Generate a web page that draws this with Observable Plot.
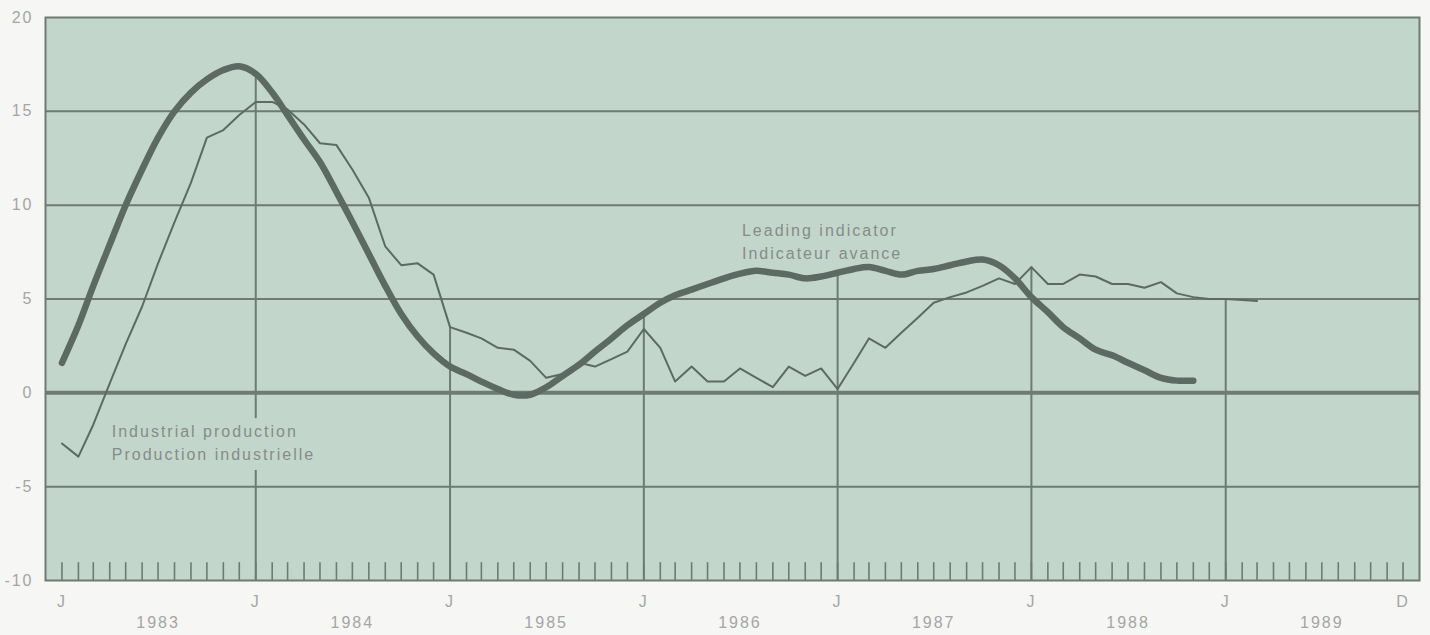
<!DOCTYPE html>
<html><head><meta charset="utf-8">
<script src="https://cdn.jsdelivr.net/npm/d3@7"></script>
<script src="https://cdn.jsdelivr.net/npm/@observablehq/plot@0.6"></script>
<style>
html,body{margin:0;padding:0;background:#f6f6f4;}
#chart svg{display:block;}
#chart text{letter-spacing:2px;}
</style></head><body><div id="chart"></div>
<script>
// Monthly series, starting January 1983
const leading = [1.6, 3.6, 5.7, 7.9, 10.0, 11.9, 13.6, 15.0, 16.0, 16.7, 17.2, 17.4,
  17.0, 16.0, 14.8, 13.5, 12.3, 10.7, 9.1, 7.4, 5.7, 4.2, 3.0, 2.1,
  1.4, 1.0, 0.6, 0.2, -0.1, -0.1, 0.3, 0.9, 1.5, 2.2, 2.9, 3.6,
  4.2, 4.8, 5.2, 5.5, 5.8, 6.1, 6.35, 6.5, 6.4, 6.3, 6.1, 6.2,
  6.4, 6.6, 6.7, 6.5, 6.3, 6.5, 6.6, 6.8, 7.0, 7.1, 6.8, 6.1,
  5.1, 4.3, 3.5, 2.9, 2.3, 2.0, 1.6, 1.2, 0.8, 0.65, 0.65];
const production = [-2.7, -3.4, -1.7, 0.5, 2.6, 4.6, 6.9, 9.1, 11.2, 13.6, 14.0, 14.8,
  15.5, 15.5, 15.1, 14.3, 13.3, 13.2, 11.9, 10.4, 7.8, 6.8, 6.9, 6.3,
  3.5, 3.2, 2.9, 2.4, 2.3, 1.7, 0.8, 1.0, 1.6, 1.4, 1.8, 2.2,
  3.4, 2.4, 0.6, 1.4, 0.6, 0.6, 1.3, 0.8, 0.3, 1.4, 0.9, 1.3,
  0.2, 1.6, 2.9, 2.4, 3.2, 4.0, 4.8, 5.1, 5.35, 5.7, 6.1, 5.8,
  6.7, 5.8, 5.8, 6.3, 6.2, 5.8, 5.8, 5.6, 5.9, 5.3, 5.1, 5.0,
  5.0, 4.95, 4.9];
const years = [1983, 1984, 1985, 1986, 1987, 1988, 1989];
const yearLabels = ["1983", "1984", "1985", "1986", "1987", "1988", "1989"];
const yTicks = [-10, -5, 0, 5, 10, 15, 20];
const yTickLabels = ["-10", "-5", "0", "5", "10", "15", "20"];
const gridValues = [-5, 5, 10, 15];
const seriesLabels = ["Industrial production\nProduction industrielle", "Leading indicator\nIndicateur avance"];

const month = (i) => new Date(Date.UTC(1983, i, 1));
const leadData = leading.map((v, i) => ({date: month(i), value: v}));
const prodData = production.map((v, i) => ({date: month(i), value: v}));
const monthTicks = d3.utcMonth.range(new Date(Date.UTC(1983, 0, 1)), new Date(Date.UTC(1990, 0, 1)));
const xStart = new Date(Date.UTC(1982, 11, 1));
const xEnd = new Date(Date.UTC(1990, 0, 1));
const yMin = yTicks[0];

// drop lines at each January (1984-1989) up to the higher of the two series
const drops = years.slice(1).map(y => {
  const i = (y - 1983) * 12;
  const vals = [leading[i], production[i]].filter(v => v !== undefined);
  return {date: month(i), top: Math.max(...vals)};
});
const xLabels = years.map(y => ({date: new Date(Date.UTC(y, 0, 1)), label: "J"}))
  .concat([{date: new Date(Date.UTC(1989, 11, 1)), label: "D"}]);
const yearTexts = years.map((y, i) => ({date: new Date(Date.UTC(y, 6, 1)), label: yearLabels[i]}));
const yLabelData = yTicks.map((v, i) => ({value: v, label: yTickLabels[i]}));

const bg = "#c3d6cc";
const grid = "#6d7b73";
const ink = "#5c6a63";
const font = "'Liberation Sans', Arial, Helvetica, sans-serif";

const chart = Plot.plot({
  width: 1430,
  height: 635,
  marginLeft: 45,
  marginRight: 11,
  marginTop: 17,
  marginBottom: 55,
  style: {background: "transparent", fontFamily: font},
  x: {type: "utc", domain: [xStart, xEnd], axis: null},
  y: {domain: [yTicks[0], yTicks[yTicks.length - 1]], axis: null},
  marks: [
    Plot.frame({fill: bg, stroke: "none"}),
    Plot.ruleY(gridValues, {stroke: grid, strokeWidth: 2}),
    Plot.ruleX(monthTicks, {y1: yMin, y2: yMin + 0.95, stroke: grid, strokeWidth: 1.6}),
    Plot.ruleX(drops, {x: "date", y1: yMin, y2: "top", stroke: grid, strokeWidth: 2}),
    Plot.text([
      {date: new Date(Date.UTC(1983, 3, 1)), value: -2.58, label: seriesLabels[0]},
      {date: new Date(Date.UTC(1986, 6, 1)), value: 8.15, label: seriesLabels[1]}
    ], {x: "date", y: "value", text: "label", textAnchor: "start", lineAnchor: "middle",
        lineHeight: 1.45, fontSize: 16, fill: "#868c89", stroke: bg, strokeWidth: 20, dx: 2}),
    Plot.ruleY([0], {stroke: grid, strokeWidth: 4}),
    Plot.line(prodData, {x: "date", y: "value", stroke: ink, strokeWidth: 2, strokeLinejoin: "round"}),
    Plot.line(leadData, {x: "date", y: "value", stroke: ink, strokeWidth: 6.5, curve: "catmull-rom", strokeLinecap: "round", strokeLinejoin: "round"}),
    Plot.frame({stroke: grid, strokeWidth: 2}),
    Plot.text(yLabelData, {x: xStart, y: "value", text: "label", textAnchor: "end", dx: -12, fontSize: 16, fill: "#a3a6a4"}),
    Plot.text(xLabels, {x: "date", y: yMin, text: "label", dy: 21, fontSize: 16, fill: "#a3a6a4"}),
    Plot.text(yearTexts, {x: "date", y: yMin, text: "label", dy: 42, fontSize: 16, fill: "#a3a6a4"})
  ]
});
document.getElementById("chart").append(chart);
</script></body></html>
